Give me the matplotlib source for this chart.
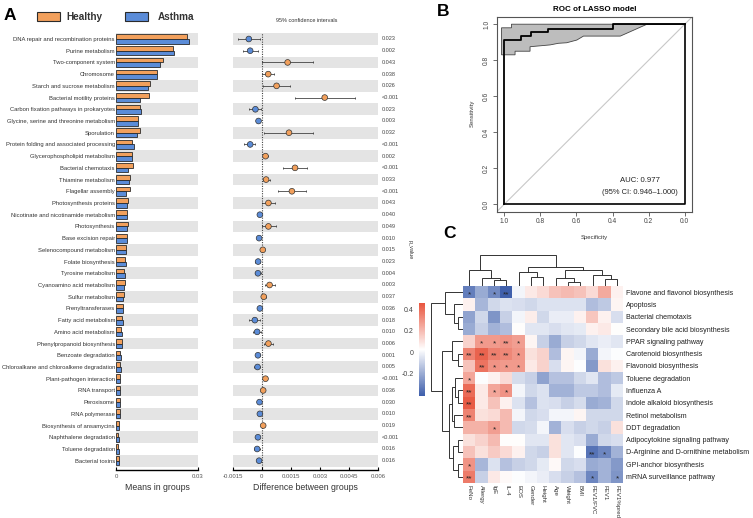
import matplotlib
matplotlib.use('Agg')
import matplotlib.pyplot as plt
import numpy as np
from matplotlib.colors import LinearSegmentedColormap, Normalize
from matplotlib.patches import Rectangle
from matplotlib.cm import ScalarMappable

plt.rcParams['font.family'] = ['Liberation Sans', 'DejaVu Sans']

# ---------------- Panel A data ----------------
pathways = [
    "DNA repair and recombination proteins", "Purine metabolism", "Two-component system",
    "Chromosome", "Starch and sucrose metabolism", "Bacterial motility proteins",
    "Carbon fixation pathways in prokaryotes", "Glycine, serine and threonine metabolism",
    "Sporulation", "Protein folding and associated processing", "Glycerophospholipid metabolism",
    "Bacterial chemotaxis", "Thiamine metabolism", "Flagellar assembly",
    "Photosynthesis proteins", "Nicotinate and nicotinamide metabolism", "Photosynthesis",
    "Base excision repair", "Selenocompound metabolism", "Folate biosynthesis",
    "Tyrosine metabolism", "Cyanoamino acid metabolism", "Sulfur metabolism",
    "Prenyltransferases", "Fatty acid metabolism", "Amino acid metabolism",
    "Phenylpropanoid biosynthesis", "Benzoate degradation",
    "Chloroalkane and chloroalkene degradation", "Plant-pathogen interaction",
    "RNA transport", "Peroxisome", "RNA polymerase", "Biosynthesis of ansamycins",
    "Naphthalene degradation", "Toluene degradation", "Bacterial toxins",
]
healthy_mean = [0.0259, 0.0207, 0.0172, 0.0151, 0.0123, 0.0120, 0.0088, 0.0079, 0.0089,
                0.0060, 0.0060, 0.0061, 0.0052, 0.0052, 0.0045, 0.0041, 0.0045, 0.0041,
                0.0038, 0.0034, 0.0030, 0.0034, 0.0029, 0.0027, 0.0023, 0.0020, 0.0023,
                0.0016, 0.0016, 0.0016, 0.0015, 0.0013, 0.0013, 0.0012, 0.0009, 0.0009, 0.0010]
asthma_mean = [0.0266, 0.0212, 0.0160, 0.0149, 0.0116, 0.0087, 0.0091, 0.0082, 0.0076,
               0.0065, 0.0057, 0.0043, 0.0049, 0.0038, 0.0041, 0.0041, 0.0041, 0.0040,
               0.0037, 0.0038, 0.0034, 0.0030, 0.0027, 0.0027, 0.0027, 0.0023, 0.0021,
               0.0020, 0.0020, 0.0015, 0.0013, 0.0014, 0.0014, 0.0011, 0.0012, 0.0011, 0.0011]
diff_mean = [-0.00067, -0.00060, 0.00133, 0.00033, 0.00076, 0.00324, -0.00033, -0.00017,
             0.00140, -0.00060, 0.00019, 0.00171, 0.00022, 0.00155, 0.00034, -0.00010,
             0.00034, -0.00014, 0.00005, -0.00019, -0.00020, 0.00040, 0.00010, -0.00010,
             -0.00036, -0.00024, 0.00034, -0.00020, -0.00022, 0.00019, 0.00007, -0.00012,
             -0.00010, 0.00007, -0.00020, -0.00024, -0.00014]
diff_low = [-0.00124, -0.00098, 0.00000, 0.00000, 0.00005, 0.00171, -0.00064, -0.00026,
            0.00009, -0.00093, 0.00005, 0.00109, 0.00005, 0.00084, 0.00002, -0.00019,
            0.00000, -0.00021, -0.00002, -0.00033, -0.00036, 0.00016, 0.00001, -0.00019,
            -0.00064, -0.00043, 0.00012, -0.00031, -0.00038, 0.00012, 0.00002, -0.00019,
            -0.00017, 0.00002, -0.00029, -0.00038, -0.00024]
diff_high = [-0.00009, -0.00020, 0.00264, 0.00062, 0.00145, 0.00478, -0.00003, -0.00009,
             0.00266, -0.00033, 0.00031, 0.00234, 0.00043, 0.00229, 0.00069, -0.00002,
             0.00074, -0.00007, 0.00012, -0.00007, -0.00005, 0.00067, 0.00019, -0.00002,
             -0.00009, -0.00005, 0.00057, -0.00010, -0.00007, 0.00026, 0.00012, -0.00005,
             -0.00003, 0.00012, -0.00012, -0.00010, -0.00005]
p_values = ["0.023", "0.002", "0.043", "0.038", "0.026", "<0.001", "0.023", "0.003", "0.032",
            "<0.001", "0.002", "<0.001", "0.033", "<0.001", "0.043", "0.040", "0.049", "0.010",
            "0.015", "0.023", "0.004", "0.003", "0.037", "0.036", "0.018", "0.010", "0.006",
            "0.001", "0.005", "<0.001", "0.036", "0.030", "0.010", "0.019", "<0.001", "0.016",
            "0.016"]
groups = ["Healthy", "Asthma"]
means_ticks = [0, 0.03]
means_ticklabels = ["0", "0.03"]
diff_ticks = [-0.0015, 0, 0.0015, 0.003, 0.0045, 0.006]
diff_ticklabels = ["-0.0015", "0", "0.0015", "0.003", "0.0045", "0.006"]

# ---------------- Panel B data ----------------
roc_spec = [1.0, 1.0, 0.907, 0.907, 0.852, 0.852, 0.756, 0.756, 0.398, 0.398, 0.0]
roc_sens = [0.0, 0.912, 0.912, 0.934, 0.934, 0.954, 0.954, 0.974, 0.974, 1.0, 1.0]
ci_upper_spec = [1.015, 0.96, 0.96, 0.0]
ci_upper_sens = [0.98, 0.98, 1.0, 1.0]
ci_lower_spec = [1.015, 0.94, 0.94, 0.857, 0.857, 0.746, 0.70, 0.654, 0.598, 0.561, 0.357, 0.209, 0.0]
ci_lower_sens = [0.83, 0.83, 0.85, 0.85, 0.875, 0.885, 0.894, 0.897, 0.912, 0.934, 0.934, 1.0, 1.0]
roc_ticks = [0.0, 0.2, 0.4, 0.6, 0.8, 1.0]
auc_text = "AUC: 0.977"
auc_ci_text = "(95% CI: 0.946\u20131.000)"

# ---------------- Panel C data ----------------
heat_rows = ["Flavone and flavonol biosynthesis", "Apoptosis", "Bacterial chemotaxis",
             "Secondary bile acid biosynthesis", "PPAR signaling pathway",
             "Carotenoid biosynthesis", "Flavonoid biosynthesis", "Toluene degradation",
             "Influenza A", "Indole alkaloid biosynthesis", "Retinol metabolism",
             "DDT degradation", "Adipocytokine signaling pathway",
             "D-Arginine and D-ornithine metabolism", "GPI-anchor biosynthesis",
             "mRNA surveillance pathway"]
heat_cols = ["FeNo", "Allergy", "IgE", "IL-4", "EOS", "Gender", "Height", "Age", "Weight",
             "BMI", "FEV1/FVC", "FEV1", "FEV1%pred"]
heat_values = np.array([
    [-0.32, -0.20, -0.29, -0.40, 0.00, 0.08, 0.12, 0.18, 0.20, 0.18, 0.12, 0.24, 0.06],
    [0.06, -0.17, -0.08, -0.05, -0.06, -0.08, -0.05, -0.05, -0.05, -0.05, -0.15, -0.12, 0.05],
    [-0.22, -0.08, -0.26, -0.10, 0.00, 0.07, -0.08, -0.02, -0.02, 0.06, 0.17, 0.06, -0.06],
    [-0.20, -0.10, -0.18, -0.15, 0.03, -0.04, -0.04, -0.06, -0.04, -0.03, 0.06, 0.08, 0.03],
    [0.14, 0.28, 0.28, 0.30, 0.27, 0.05, -0.10, -0.20, -0.10, -0.08, -0.04, -0.02, -0.04],
    [0.34, 0.42, 0.35, 0.33, 0.29, 0.10, 0.14, -0.15, 0.05, 0.00, -0.20, 0.00, 0.02],
    [0.18, 0.38, 0.30, 0.28, 0.28, 0.08, 0.14, -0.06, 0.05, 0.02, -0.25, 0.10, 0.06],
    [0.25, 0.02, 0.06, 0.12, -0.07, -0.10, -0.22, -0.14, -0.14, -0.08, -0.04, -0.15, -0.12],
    [0.40, 0.08, 0.25, 0.30, 0.00, -0.08, -0.05, -0.18, -0.18, -0.12, -0.12, -0.15, -0.03],
    [0.44, 0.08, 0.18, 0.06, -0.05, -0.14, -0.05, -0.06, -0.10, -0.07, -0.20, -0.18, -0.08],
    [0.34, 0.10, 0.12, 0.20, 0.00, -0.08, -0.06, 0.00, 0.00, 0.05, -0.08, -0.08, -0.08],
    [0.22, 0.22, 0.27, 0.20, -0.08, -0.07, 0.00, -0.18, -0.06, -0.10, -0.08, -0.10, 0.10],
    [0.10, 0.14, 0.20, 0.03, 0.03, -0.04, -0.04, 0.10, -0.04, -0.06, -0.20, -0.08, -0.06],
    [0.18, 0.10, 0.16, 0.12, 0.06, -0.08, -0.10, 0.10, -0.04, 0.02, -0.35, -0.30, -0.18],
    [0.30, -0.17, -0.05, -0.14, -0.10, -0.08, -0.03, 0.04, -0.08, -0.06, -0.20, -0.18, -0.25],
    [0.36, -0.10, 0.08, 0.04, 0.02, 0.00, -0.02, -0.06, -0.10, -0.14, -0.30, -0.18, -0.26],
])
heat_stars = [
    ["*", "", "*", "**", "", "", "", "", "", "", "", "", ""],
    [""] * 13,
    [""] * 13,
    [""] * 13,
    ["", "*", "*", "**", "*", "", "", "", "", "", "", "", ""],
    ["**", "**", "**", "**", "*", "", "", "", "", "", "", "", ""],
    ["", "**", "*", "*", "*", "", "", "", "", "", "", "", ""],
    ["*", "", "", "", "", "", "", "", "", "", "", "", ""],
    ["**", "", "*", "*", "", "", "", "", "", "", "", "", ""],
    ["**", "", "", "", "", "", "", "", "", "", "", "", ""],
    ["**", "", "", "", "", "", "", "", "", "", "", "", ""],
    ["", "", "*", "", "", "", "", "", "", "", "", "", ""],
    [""] * 13,
    ["", "", "", "", "", "", "", "", "", "", "**", "*", ""],
    ["*", "", "", "", "", "", "", "", "", "", "", "", ""],
    ["**", "", "", "", "", "", "", "", "", "", "*", "", "*"],
]
cbar_ticks = [-0.2, 0, 0.2, 0.4]
cbar_ticklabels = ["-0.2", "0", "0.2", "0.4"]
heat_vmin, heat_vmax = -0.41, 0.46
# dendrogram trees: (left, right, merge height)
col_tree = ((0, (1, (2, 3, 6.0), 7.7), 16.0),
            ((4, (5, 6, 8.7), 13.7),
             ((7, (8, 9, 4.3), 7.7), (10, (11, 12, 6.7), 11.0), 16.0), 19.3), 31.0)
row_tree = ((0, (1, (2, 3, 5.0), 9.5), 18.0),
            ((4, (5, 6, 5.0), 11.0),
             (((7, (8, 9, 5.6), 8.0), (10, 11, 9.0), 11.0),
              ((12, 13, 5.6), (14, 15, 5.6), 10.0), 14.0), 21.6), 32.0)

# ---------------- Figure ----------------
W, H = 753, 518
fig = plt.figure(figsize=(W / 100, H / 100), dpi=100)


def px_axes(x0, y0, x1, y1):
    return fig.add_axes([x0 / W, 1 - y1 / H, (x1 - x0) / W, (y1 - y0) / H])


ov = fig.add_axes([0, 0, 1, 1])
ov.set_xlim(0, W)
ov.set_ylim(H, 0)
ov.axis('off')

ORANGE = '#F2A05C'
BLUE = '#5B8CD8'
EDGE = '#2B2B2B'
BAND = '#E4E4E4'
TXT = '#333333'

# Panel letter and legend
ov.text(4, 16, "A", fontsize=12.5, fontweight='bold', va='center', ha='left')
ov.add_patch(Rectangle((37, 12), 23, 9, facecolor=ORANGE, edgecolor=EDGE, lw=0.8))
ov.text(66, 16.5, groups[0], fontsize=7.2, fontweight='bold', va='center', ha='left', color=TXT)
ov.add_patch(Rectangle((125.5, 12), 23, 9, facecolor=BLUE, edgecolor=EDGE, lw=0.8))
ov.text(158, 16.5, groups[1], fontsize=7.2, fontweight='bold', va='center', ha='left', color=TXT)

n = len(pathways)
ypos = np.arange(n)
row_step = (460.7 - 39.0) / (n - 1)
top_px = 39.0 - row_step / 2
bot_px = 470.3
ybottom = (n - 1) + (bot_px - 39.0 - (n - 1) * row_step) / row_step

# Means in groups
axL = px_axes(116, top_px, 198, bot_px)
for i in range(0, n, 2):
    axL.axhspan(i - 0.5, i + 0.5, color=BAND, lw=0, zorder=0)
bh = 0.39
axL.barh(ypos - bh / 2, healthy_mean, height=bh, color=ORANGE, edgecolor=EDGE, lw=0.6, zorder=2)
axL.barh(ypos + bh / 2, asthma_mean, height=bh, color=BLUE, edgecolor=EDGE, lw=0.6, zorder=2)
axL.set_xlim(0, 0.03)
axL.set_ylim(ybottom, -0.5)
axL.set_yticks(ypos)
axL.set_yticklabels(pathways, fontsize=4.2, color=TXT)
axL.tick_params(axis='y', length=0, pad=0.8)
axL.set_xticks(means_ticks)
axL.set_xticklabels(means_ticklabels, fontsize=4.3, color='#555555')
axL.tick_params(axis='x', direction='in', length=2, width=0.8, pad=3)
for s in ['top', 'right', 'left']:
    axL.spines[s].set_visible(False)
axL.spines['bottom'].set_linewidth(1.0)
ov.text(157, 487, "Means in groups", fontsize=6.3, ha='center', va='center', color=TXT)

# Difference between groups
axM = px_axes(232.7, top_px, 378.3, bot_px)
for i in range(0, n, 2):
    axM.axhspan(i - 0.5, i + 0.5, color=BAND, lw=0, zorder=0)
axM.axvline(0, ls=(0, (1, 1.2)), color='#444444', lw=0.8, zorder=1)
dm = np.array(diff_mean)
lo = np.array(diff_low)
hi = np.array(diff_high)
axM.errorbar(dm, ypos, xerr=[dm - lo, hi - dm], fmt='none', ecolor='#333333',
             elinewidth=0.55, capsize=1.0, capthick=0.55, zorder=2)
pcolors = [ORANGE if v > 0 else BLUE for v in diff_mean]
axM.scatter(dm, ypos, s=17, c=pcolors, edgecolors='#333333', linewidths=0.5, zorder=3)
axM.set_xlim(-0.0015, 0.006)
axM.set_ylim(ybottom, -0.5)
axM.set_yticks([])
axM.set_xticks(diff_ticks)
axM.set_xticklabels(diff_ticklabels, fontsize=4.3, color='#555555')
axM.tick_params(axis='x', direction='in', length=2, width=0.8, pad=3)
for s in ['top', 'right', 'left']:
    axM.spines[s].set_visible(False)
axM.spines['bottom'].set_linewidth(1.0)
ptrans = axM.get_yaxis_transform()
xp = (382 - 232.7) / (378.3 - 232.7)
for i, p in enumerate(p_values):
    axM.text(xp, i, p, transform=ptrans, fontsize=4.0, ha='left', va='center',
             color='#444444', clip_on=False)
ov.text(307, 20, "95% confidence intervals", fontsize=4.0, ha='center', va='center', color=TXT)
ov.text(410, 250, "p_value", fontsize=4.0, rotation=270, ha='center', va='center', color=TXT)
ov.text(305.5, 487, "Difference between groups", fontsize=6.3, ha='center', va='center', color=TXT)

# ---------------- Panel B ----------------
ov.text(437, 12, "B", fontsize=12.5, fontweight='bold', va='center', ha='left')
axB = px_axes(497, 17, 692, 211.5)
axB.set_xlim(1.04, -0.04)
axB.set_ylim(-0.04, 1.04)
axB.plot([1.04, -0.04], [-0.04, 1.04], color='#C8C8C8', lw=0.8, zorder=1)
poly_x = list(ci_upper_spec) + list(ci_lower_spec[::-1])
poly_y = list(ci_upper_sens) + list(ci_lower_sens[::-1])
axB.fill(poly_x, poly_y, facecolor='#BDBDBD', edgecolor='#444444', lw=0.6, zorder=2)
axB.plot([roc_spec[0], roc_spec[-1], roc_spec[-1]], [roc_sens[0], roc_sens[0], roc_sens[-1]],
         color='black', lw=1.2, zorder=3)
axB.plot(roc_spec, roc_sens, color='black', lw=1.3, zorder=4)
axB.set_xticks(roc_ticks)
axB.set_xticklabels(["%.1f" % t for t in roc_ticks], fontsize=4.8, color='#444444')
axB.set_yticks(roc_ticks)
axB.set_yticklabels(["%.1f" % t for t in roc_ticks], fontsize=4.8, color='#444444',
                    rotation=90, va='center')
axB.tick_params(length=3, width=0.6, color='#555555', pad=2)
for s in axB.spines.values():
    s.set_linewidth(0.8)
    s.set_color('#555555')
axB.text(0.25, 0.13, auc_text, fontsize=5.6, ha='center', va='center', color='#222222')
axB.text(0.25, 0.065, auc_ci_text, fontsize=5.4, ha='center', va='center', color='#222222')
ov.text(595, 9.5, "ROC of LASSO model", fontsize=5.8, fontweight='bold', ha='center', va='center')
ov.text(472, 113, "Sensitivity", fontsize=4.3, rotation=90, ha='center', va='center', color=TXT)
ov.text(594, 238, "Specificity", fontsize=4.3, ha='center', va='center', color=TXT)

# ---------------- Panel C ----------------
ov.text(443, 233, "C", fontsize=12.5, fontweight='bold', va='center', ha='left')
cmap = LinearSegmentedColormap.from_list('bwr_c', ['#3D5EAB', '#FFFFFF', '#E8553E'])
norm = Normalize(vmin=heat_vmin, vmax=heat_vmax)
hx0, hy0, hx1, hy1 = 463.3, 286.0, 623.3, 482.7
axH = px_axes(hx0, hy0, hx1, hy1)
axH.imshow(heat_values, cmap=cmap, norm=norm, aspect='auto', interpolation='nearest')
nr, nc = heat_values.shape
for i in range(nr):
    for j in range(nc):
        if heat_stars[i][j]:
            axH.text(j, i + 0.2, heat_stars[i][j], fontsize=6, ha='center', va='center',
                     color='#222222')
axH.set_xticks(np.arange(nc))
axH.set_xticklabels(heat_cols, rotation=270, fontsize=4.4, color=TXT, va='top', ha='center')
axH.set_yticks(np.arange(nr))
axH.yaxis.tick_right()
axH.set_yticklabels(heat_rows, fontsize=5.1, color='#222222')
axH.tick_params(length=0, pad=2)
axH.tick_params(axis='x', pad=1.5)
for s in axH.spines.values():
    s.set_visible(False)


def draw_tree(ax, node, orient):
    if isinstance(node, int):
        return node + 0.5, 0.0
    l, r, h = node
    pl, hl = draw_tree(ax, l, orient)
    pr, hr = draw_tree(ax, r, orient)
    if orient == 'top':
        ax.plot([pl, pl, pr, pr], [hl, h, h, hr], color='#333333', lw=0.7,
                solid_joinstyle='miter')
    else:
        ax.plot([hl, h, h, hr], [pl, pl, pr, pr], color='#333333', lw=0.7,
                solid_joinstyle='miter')
    return (pl + pr) / 2, h


axCD = px_axes(hx0, 253, hx1, hy0)
draw_tree(axCD, col_tree, 'top')
axCD.set_xlim(0, nc)
axCD.set_ylim(0, 33)
axCD.axis('off')

axRD = px_axes(430, hy0, hx0, hy1)
draw_tree(axRD, row_tree, 'left')
axRD.set_xlim(33.3, 0)
axRD.set_ylim(nr, 0)
axRD.axis('off')

axCB = px_axes(419, 303, 425, 396)
cb = fig.colorbar(ScalarMappable(norm=norm, cmap=cmap), cax=axCB)
cb.outline.set_visible(False)
cb.set_ticks(cbar_ticks)
cb.set_ticklabels(cbar_ticklabels)
axCB.yaxis.set_ticks_position('left')
axCB.tick_params(length=0, pad=4, labelsize=5, labelcolor='#444444')

fig.savefig('out.png', dpi=100)
